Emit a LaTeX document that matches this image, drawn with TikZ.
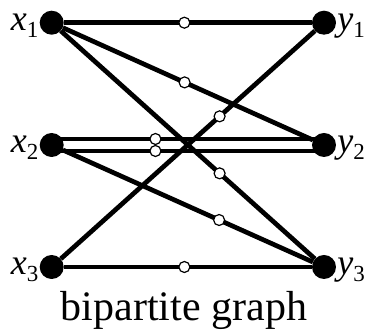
\documentclass[tikz,border=0pt]{standalone}
\usepackage{fontspec}
\setmainfont{Liberation Serif}
\usetikzlibrary{positioning}
\pgfdeclarelayer{edges}
\pgfsetlayers{edges,main}
\tikzset{
  vtx/.style={circle, fill=black, inner sep=0pt, minimum size=24pt},
  hole/.style={circle, draw=black, fill=white, line width=1.2pt, inner sep=0pt, minimum size=11pt},
  bond/.style={line width=4.7pt},
  lbl/.style={inner sep=0pt, font=\fontsize{36}{40}\selectfont},
  titletext/.style={inner sep=0pt, font=\fontsize{42}{48}\selectfont},
}
\newcommand{\vlab}[2]{\textit{#1}\raisebox{-7pt}{\fontsize{23}{23}\selectfont #2}}

\begin{document}
\begin{tikzpicture}[x=1pt, y=-1pt]
  \useasboundingbox (0,0) rectangle (368,336);
  % vertices
  \node[vtx] (x1) at (51.7,22.7) {};
  \node[vtx] (x2) at (51.7,145) {};
  \node[vtx] (x3) at (51.7,267) {};
  \node[vtx] (y1) at (324,22.7) {};
  \node[vtx] (y2) at (324,145) {};
  \node[vtx] (y3) at (324,267) {};
  % labels
  \foreach \i in {1,2,3}{
    \node[lbl, anchor=base east] (lx\i) at ([yshift=-8pt,xshift=-1pt]x\i.west) {\vlab{x}{\i}};
    \node[lbl, anchor=base west] (ly\i) at ([yshift=-8pt,xshift=1pt]y\i.east) {\vlab{y}{\i}};
  }
  % edges
  \begin{pgfonlayer}{edges}
    \draw[bond] (x1) -- node[hole, pos=.486] (h1) {} (y1);
    \draw[bond] (x1) -- node[hole, pos=.487] (h2) {} (y2);
    \draw[bond] (x1) -- node[hole, pos=.625] (h3) {} (y3);
    \draw[bond] ([yshift=6pt]x2.center) -- node[hole, pos=.381] (h4) {} ([yshift=6pt]y2.center);
    \draw[bond] ([yshift=-6pt]x2.center) -- node[hole, pos=.381] (h5) {} ([yshift=-6pt]y2.center);
    \draw[bond] (x2) -- node[hole, pos=.625] (h6) {} (y3);
    \draw[bond] (x3) -- node[hole, pos=.625] (h7) {} (y1);
    \draw[bond] (x3) -- node[hole, pos=.486] (h8) {} (y3);
  \end{pgfonlayer}
  \node[titletext, anchor=base] (title) at (184,321) {bipartite graph};
\end{tikzpicture}
\end{document}
